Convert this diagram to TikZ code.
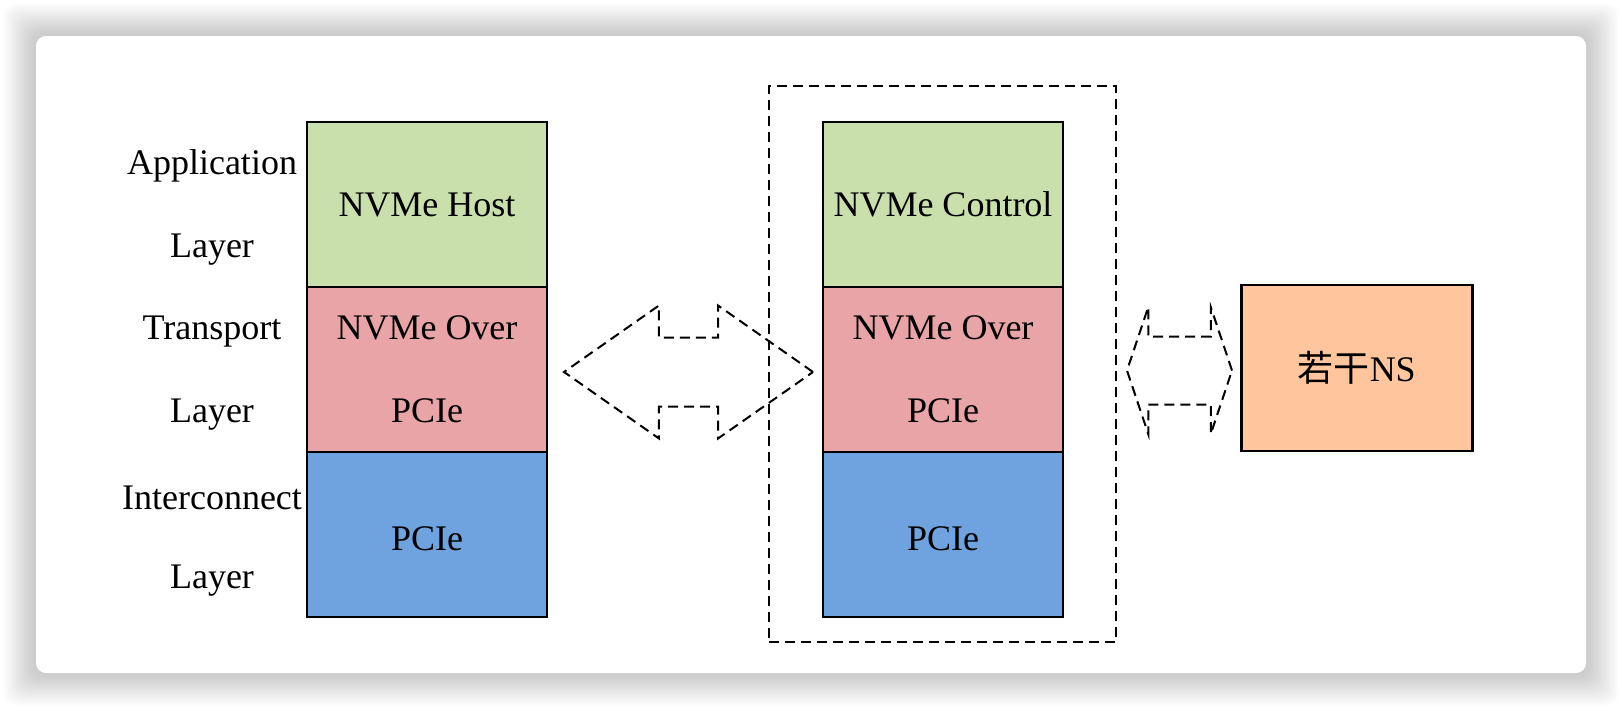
\documentclass[tikz,border=0pt]{standalone}
\usepackage{fontspec}
\setmainfont{Liberation Serif}
\newfontfamily\cjk{Noto Sans CJK SC}
\usetikzlibrary{positioning,shapes.arrows,fit}
\definecolor{appgreen}{HTML}{C9DFAC}
\definecolor{tpred}{HTML}{E8A4A6}
\definecolor{icblue}{HTML}{6FA3DF}
\definecolor{nsorange}{HTML}{FFC69E}

\begin{document}
\begin{tikzpicture}[
  x=1pt, y=-1pt,
  font=\fontsize{36}{83}\selectfont,
  stackbox/.style={draw, line width=2.5pt, outer sep=0pt, inner sep=0pt, align=center, minimum width=240pt, minimum height=165pt},
  side/.style={align=center},
  dasharrow/.style={draw, double arrow, line width=2pt, dash pattern=on 10pt off 6pt, inner xsep=0pt}
]
\useasboundingbox (0,0) rectangle (1622,710);
% card with soft shadow
\foreach \s in {1,...,18}
  \fill[black, opacity=0.01, rounded corners=12pt] (36-1.8*\s,36-1.8*\s) rectangle (1586+1.8*\s,673+1.8*\s);
\fill[white, rounded corners=10pt] (36,36) rectangle (1586,673);

% host side
\node[stackbox, fill=appgreen, anchor=north west] (host) at (307,122) {NVMe Host};
\node[stackbox, fill=tpred, below=0pt of host] (hover) {NVMe Over\\PCIe};
\node[stackbox, fill=icblue, below=0pt of hover, label={[yshift=-4pt]center:PCIe}] (hpcie) {};

\node[side] (applbl) at ([xshift=-95pt,yshift=-3pt]host.west) {Application\\Layer};
\node[side] (tplbl) at ([xshift=-95pt,yshift=-4pt]hover.west) {Transport\\Layer};
\node[side, font=\fontsize{36}{79}\selectfont] (iclbl) at ([xshift=-95pt,yshift=-7pt]hpcie.west) {Interconnect\\Layer};

% controller side
\node[stackbox, fill=appgreen, anchor=north west] (ctrl) at (823,122) {NVMe Control};
\node[stackbox, fill=tpred, below=0pt of ctrl] (cover) {NVMe Over\\PCIe};
\node[stackbox, fill=icblue, below=0pt of cover, label={[yshift=-4pt]center:PCIe}] (cpcie) {};
\coordinate (boxnw) at ([xshift=-54pt,yshift=36pt]ctrl.north west);
\coordinate (boxse) at ([xshift=53pt,yshift=-25pt]cpcie.south east);
\node[draw, line width=2pt, dash pattern=on 10pt off 6pt, inner sep=0pt, fit=(boxnw) (boxse)] (ctrlbox) {};

\node[draw, line width=2.5pt, fill=nsorange, minimum width=231pt, minimum height=166pt, anchor=west] (ns) at (1240,368) {{\cjk 若干}NS};

% links
\node[dasharrow, inner ysep=33.5pt, minimum height=249pt, double arrow head extend=32pt, double arrow tip angle=70] (hostlink) at (688.5,372) {};
\node[dasharrow, inner ysep=33pt, minimum height=105pt, double arrow head extend=29.5pt, double arrow tip angle=143] (nslink) at (1179.5,370.5) {};
\end{tikzpicture}
\end{document}
